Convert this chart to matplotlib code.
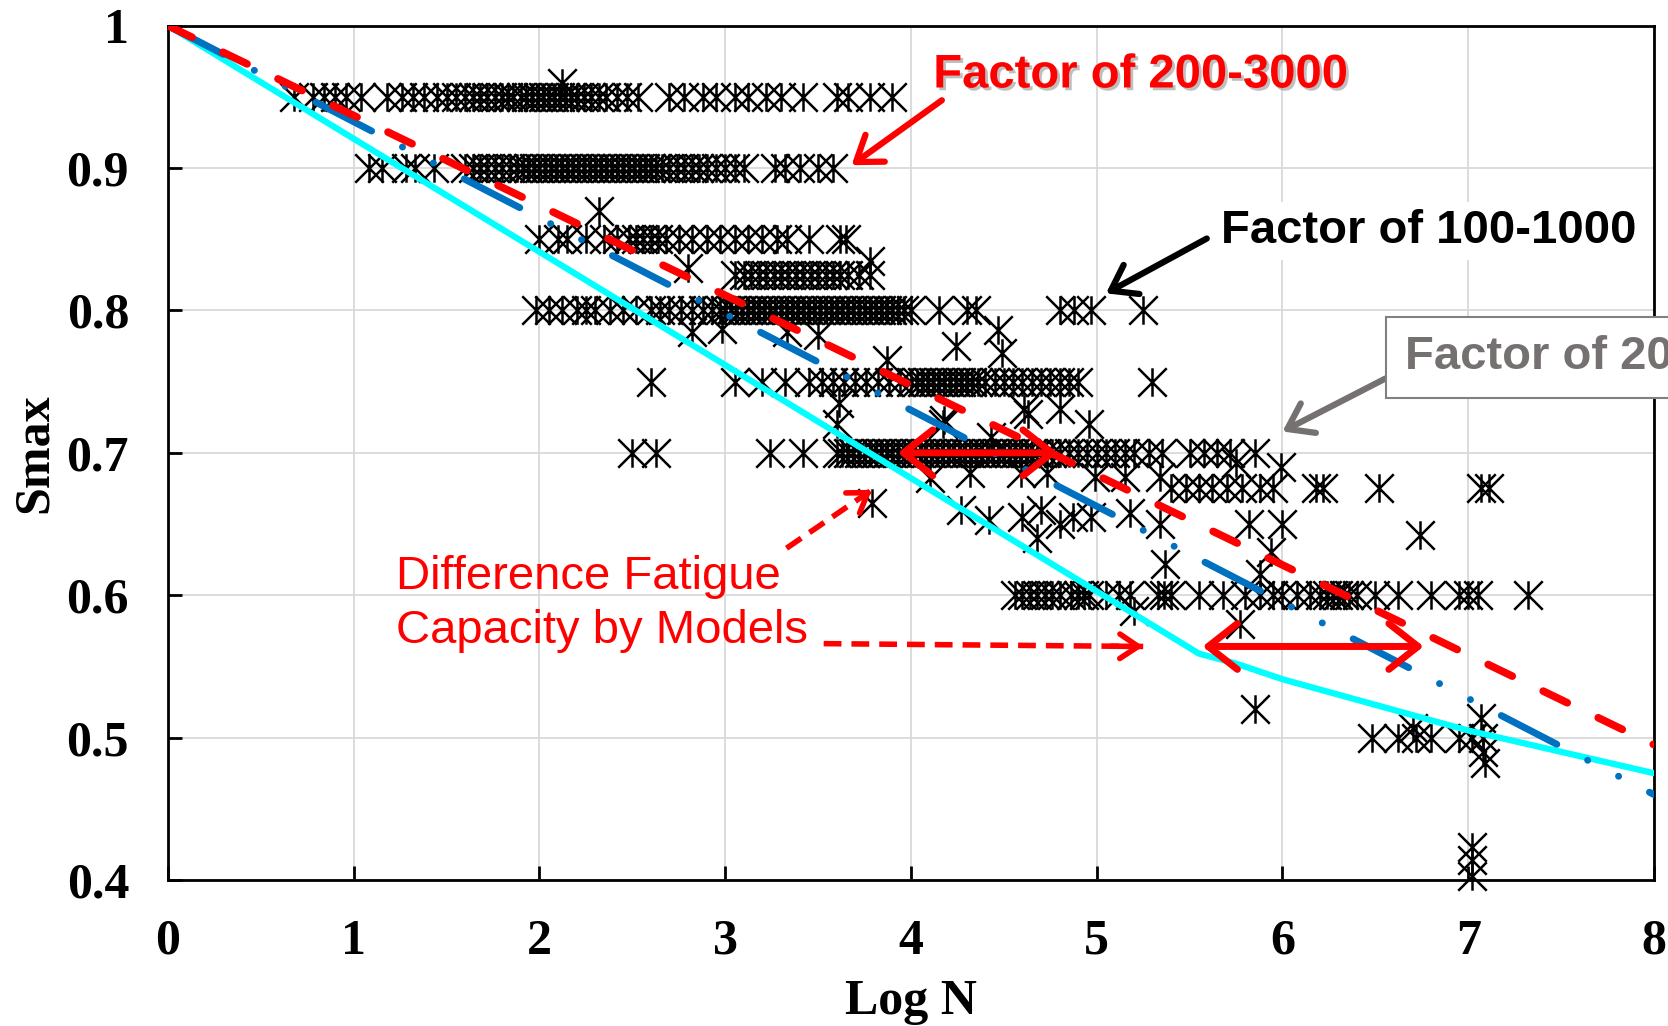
import matplotlib
matplotlib.use("Agg")
import matplotlib.pyplot as plt
import matplotlib.patheffects as pe
from matplotlib.path import Path

# model curves (Log N, Smax)
cyan_x = [0.0, 5.45, 5.55, 5.75, 6.0, 7.0, 8.0]
cyan_y = [1.0, 0.567, 0.559, 0.552, 0.541, 0.505, 0.475]
red_x = [0.0, 8.0]
red_y = [1.0, 0.495]
blue_x = [0.0, 8.0]
blue_y = [1.0, 0.46]

# test data, grouped by stress level
row_095 = [0.68, 0.78, 0.84, 0.9, 0.96, 1.04,
           1.18, 1.26, 1.32, 1.38, 1.45, 1.5, 1.55, 1.6, 1.64, 1.68, 1.72, 1.76,
           1.8, 1.83, 1.86, 1.9, 1.93, 1.96, 1.99, 2.02, 2.05, 2.08, 2.11, 2.14,
           2.17, 2.2, 2.24, 2.28, 2.32, 2.36, 2.42, 2.47, 2.53,
           2.7, 2.78, 2.88, 2.95, 3.05, 3.12, 3.22, 3.3, 3.42,
           3.6, 3.66, 3.78, 3.9]
row_090 = [1.08, 1.15, 1.28, 1.33, 1.43,
           1.6, 1.64, 1.68, 1.72, 1.76, 1.8, 1.84, 1.88, 1.91, 1.94, 1.97, 2.0,
           2.03, 2.06, 2.09, 2.12, 2.15, 2.18, 2.21, 2.24, 2.27, 2.3, 2.33, 2.36,
           2.39, 2.42, 2.45, 2.48, 2.51, 2.54, 2.57, 2.6, 2.63, 2.66, 2.7, 2.74,
           2.78, 2.82, 2.86, 2.9, 2.95, 3.0, 3.05, 3.1,
           3.27, 3.32, 3.4, 3.5, 3.58]
row_085 = [2.0, 2.1, 2.15, 2.25, 2.35, 2.42, 2.48, 2.52, 2.56, 2.6, 2.64, 2.68,
           2.75, 2.82, 2.9, 2.97, 3.05, 3.12, 3.2, 3.28, 3.33, 3.45, 3.62, 3.65]
row_0825 = [3.05, 3.1, 3.14, 3.18, 3.22, 3.26, 3.3, 3.34, 3.38, 3.42, 3.46, 3.5,
            3.54, 3.58, 3.62, 3.66, 3.72, 3.78]
row_080 = [1.98, 2.05, 2.12, 2.2, 2.25, 2.3, 2.38, 2.45, 2.52, 2.6, 2.65, 2.7,
           2.76, 2.82, 2.88, 2.93, 2.97, 3.0, 3.03, 3.06, 3.09, 3.12, 3.15, 3.18,
           3.21, 3.24, 3.27, 3.3, 3.33, 3.36, 3.39, 3.42, 3.45, 3.48, 3.51, 3.54,
           3.57, 3.6, 3.63, 3.66, 3.69, 3.72, 3.75, 3.78, 3.81, 3.84, 3.87, 3.9,
           3.93, 3.96, 4.0, 4.15, 4.3, 4.35, 4.8, 4.88, 4.97, 5.25]
row_075 = [2.6, 3.05, 3.2, 3.32, 3.45, 3.52, 3.58, 3.64, 3.7, 3.76, 3.82, 3.88,
           3.94, 4.0, 4.03, 4.06, 4.09, 4.12, 4.15, 4.18, 4.21, 4.24, 4.27, 4.3,
           4.33, 4.36, 4.4, 4.45, 4.5, 4.55, 4.6, 4.65, 4.7, 4.75, 4.8, 4.85,
           4.9, 5.3]
row_070 = [2.5, 2.63, 3.24, 3.42, 3.6, 3.63, 3.66, 3.69, 3.72, 3.75, 3.78, 3.81,
           3.84, 3.87, 3.9, 3.93, 3.96, 3.99, 4.02, 4.05, 4.08, 4.11, 4.14, 4.17,
           4.2, 4.23, 4.26, 4.29, 4.32, 4.35, 4.38, 4.41, 4.44, 4.47, 4.5, 4.53,
           4.56, 4.59, 4.62, 4.65, 4.68, 4.72, 4.76, 4.8, 4.85, 4.9, 4.95, 5.0,
           5.05, 5.1, 5.15, 5.2, 5.28, 5.35, 5.5, 5.58, 5.65, 5.72, 5.85]
row_0675 = [5.4, 5.48, 5.55, 5.62, 5.7, 5.78, 5.88, 5.95, 6.18, 6.22, 6.52,
            7.07, 7.11]
row_060 = [4.56, 4.6, 4.64, 4.68, 4.72, 4.76, 4.8, 4.86, 4.9, 4.93, 4.96, 5.05,
           5.12, 5.18, 5.33, 5.36, 5.4, 5.55, 5.68, 5.8, 5.88, 5.95, 6.0, 6.08,
           6.15, 6.2, 6.24, 6.27, 6.3, 6.33, 6.36, 6.4, 6.5, 6.62, 6.8, 6.95,
           7.0, 7.05, 7.32]
row_050 = [6.48, 6.62, 6.72, 6.8, 6.95, 7.02, 7.08]
other_x = [2.12, 2.32, 2.8, 3.78, 2.82, 2.98, 3.33, 3.5, 4.24, 4.47, 4.49, 3.87,
           3.61, 3.6, 4.17, 4.61, 4.8, 4.96, 4.43, 4.63, 4.18,
           4.1, 4.32, 4.59, 4.73, 4.99, 5.15, 5.34, 5.75, 5.99,
           3.79, 4.27, 4.42, 4.6, 4.7, 4.8, 4.87, 4.97, 5.18, 5.34, 5.82, 6.0, 6.74,
           4.68, 5.37, 5.94, 5.88, 5.2, 5.77,
           5.85, 6.7, 7.07, 7.08, 7.09, 7.02, 7.02, 7.02]
other_y = [0.96, 0.87, 0.83, 0.835, 0.785, 0.787, 0.785, 0.783, 0.775, 0.786, 0.77, 0.765,
           0.735, 0.72, 0.72, 0.731, 0.731, 0.72, 0.711, 0.727, 0.723,
           0.682, 0.686, 0.686, 0.686, 0.683, 0.683, 0.683, 0.693, 0.69,
           0.665, 0.66, 0.653, 0.655, 0.66, 0.65, 0.655, 0.655, 0.658, 0.65, 0.65, 0.65, 0.642,
           0.64, 0.622, 0.63, 0.615, 0.589, 0.58,
           0.52, 0.507, 0.514, 0.49, 0.482, 0.423, 0.414, 0.403]

x_ticks = [0, 1, 2, 3, 4, 5, 6, 7, 8]
y_ticks = [0.4, 0.5, 0.6, 0.7, 0.8, 0.9, 1.0]
y_tick_labels = ["0.4", "0.5", "0.6", "0.7", "0.8", "0.9", "1"]

# star marker: an X with a vertical bar
star = Path([(-1, -1), (1, 1), (-1, 1), (1, -1), (0, -1), (0, 1)],
            [Path.MOVETO, Path.LINETO, Path.MOVETO, Path.LINETO, Path.MOVETO, Path.LINETO])

fig = plt.figure(figsize=(16.68, 10.26), dpi=100)
ax = fig.add_axes([0.1007, 0.1423, 0.8909, 0.8327])

rows = [(row_095, 0.95), (row_090, 0.9), (row_085, 0.85), (row_0825, 0.825),
        (row_080, 0.8), (row_075, 0.75), (row_070, 0.7), (row_0675, 0.675),
        (row_060, 0.6), (row_050, 0.5)]
for xs, level in rows:
    ax.plot(xs, [level] * len(xs), linestyle="none", marker=star, markersize=20.5,
            markeredgewidth=1.8, color="black", zorder=3, clip_on=False)
ax.plot(other_x, other_y, linestyle="none", marker=star, markersize=20.5,
        markeredgewidth=1.8, color="black", zorder=3, clip_on=False)

ax.plot(cyan_x, cyan_y, color="#00ffff", lw=4.5, zorder=4, solid_capstyle="round")
ax.plot(blue_x, blue_y, color="#0070c0", lw=5, zorder=4, dash_capstyle="round",
        linestyle=(0, (9, 5, 0.01, 5, 0.01, 5)))
ax.plot(red_x, red_y, color="red", lw=5.5, zorder=4, dash_capstyle="round",
        linestyle=(0, (3.5, 4.5)))

ax.set_xlim(0, 8)
ax.set_ylim(0.4, 1.0)
ax.set_xticks(x_ticks)
ax.set_yticks(y_ticks)
ax.set_yticklabels(y_tick_labels)
ax.grid(True, color="#d9d9d9", lw=1.3, zorder=0)
ax.tick_params(direction="in", length=10, width=2, labelsize=36, pad=28)
for lab in ax.get_xticklabels() + ax.get_yticklabels():
    lab.set_fontfamily("Liberation Serif")
    lab.set_fontweight("bold")
for s in ax.spines.values():
    s.set_linewidth(2)
ax.set_xlabel("Log N", fontsize=36, fontweight="bold", family="Liberation Serif", labelpad=10)
ax.set_ylabel("Smax", fontsize=36, fontweight="bold", family="Liberation Serif", labelpad=6)

# annotations
shadow = [pe.SimplePatchShadow(offset=(2, -2), shadow_rgbFace="gray", alpha=0.5), pe.Normal()]
ax.annotate("Factor of 200-3000", xy=(3.68, 0.902), xytext=(4.12, 0.965),
            fontsize=34, fontweight="bold", family="Liberation Sans", color="red",
            va="center", ha="left", path_effects=shadow, zorder=6,
            arrowprops=dict(arrowstyle="->,head_length=0.5,head_width=0.35",
                            color="red", lw=4.5, shrinkA=0, shrinkB=0,
                            relpos=(0.03, 0.0)))
ax.annotate("Factor of 100-1000", xy=(5.05, 0.812), xytext=(5.67, 0.856),
            fontsize=34, fontweight="bold", family="Liberation Sans", color="black",
            va="center", ha="left", zorder=6, annotation_clip=False,
            bbox=dict(boxstyle="square,pad=0.15", fc="white", ec="none"),
            arrowprops=dict(arrowstyle="->,head_length=0.5,head_width=0.35",
                            color="black", lw=4.5, shrinkA=6, shrinkB=0,
                            relpos=(0.0, 0.5)))
ax.annotate("Factor of 20-100", xy=(6.0, 0.715), xytext=(6.66, 0.767),
            fontsize=34, fontweight="bold", family="Liberation Sans", color="#767171",
            va="center", ha="left", zorder=6, annotation_clip=False,
            bbox=dict(boxstyle="square,pad=0.4", fc="white", ec="#808080", lw=1.5),
            arrowprops=dict(arrowstyle="->,head_length=0.5,head_width=0.35",
                            color="#767171", lw=4.5, shrinkA=0, shrinkB=0,
                            relpos=(0.0, 0.25)))

ax.text(1.23, 0.594, "Difference Fatigue\nCapacity by Models", fontsize=34,
        family="Liberation Sans", color="red", va="center", ha="left",
        linespacing=1.3, zorder=6)

# dashed pointers from the text
for (x0, y0), (x1, y1) in [((3.33, 0.633), (3.79, 0.674)), ((3.53, 0.566), (5.25, 0.564))]:
    ax.plot([x0, x1], [y0, y1], color="red", lw=4, linestyle=(0, (3.2, 1.8)), zorder=6)
    ax.annotate("", xy=(x1, y1), xytext=(x0 + 0.9 * (x1 - x0), y0 + 0.9 * (y1 - y0)),
                arrowprops=dict(arrowstyle="->,head_length=0.6,head_width=0.4",
                                color="red", lw=4, shrinkA=0, shrinkB=0,
                                mutation_scale=22), zorder=6)

# capacity differences
for x0, x1, yy in [(3.93, 4.79, 0.7), (5.57, 6.76, 0.564)]:
    ax.annotate("", xy=(x1, yy), xytext=(x0, yy),
                arrowprops=dict(arrowstyle="<->,head_length=0.7,head_width=0.55",
                                color="red", lw=5, shrinkA=0, shrinkB=0,
                                mutation_scale=30), zorder=7)

fig.savefig("out.png", dpi=100)
